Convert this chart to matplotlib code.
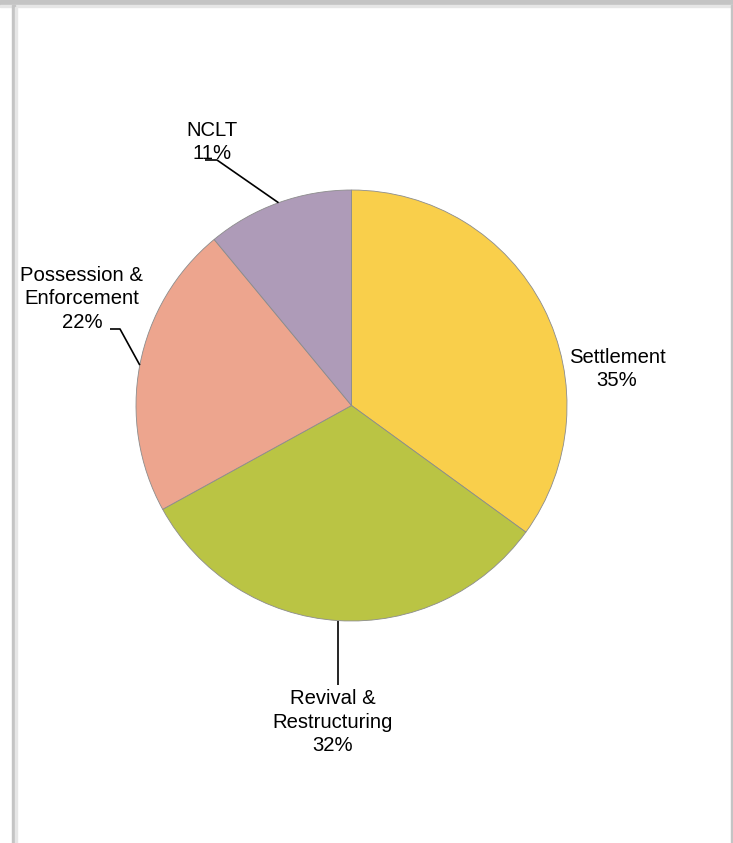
import numpy as np
import matplotlib.pyplot as plt
from matplotlib.patches import Rectangle

plt.rcParams['font.family'] = ['Liberation Sans', 'DejaVu Sans']

# data
labels = ["Settlement", "Revival &\nRestructuring", "Possession &\nEnforcement", "NCLT"]
shares = [35, 32, 22, 11]
colors = ["#F9CF4B", "#BAC444", "#EDA58E", "#AE9BB8"]

W, H = 733, 843
fig = plt.figure(figsize=(W / 100, H / 100), dpi=100)
ax = fig.add_axes([0, 0, 1, 1])

# pie geometry in pixel coordinates (y measured from bottom)
cx, cy, r = 351.5, H - 405.5, 215.5
wedges, _ = ax.pie(shares, colors=colors, startangle=90, counterclock=False,
                   center=(cx, cy), radius=r,
                   wedgeprops=dict(edgecolor="#8C8C8C", linewidth=0.6))

# label text centres and leader elbows (image pixel coords, y from top)
text_pos = [(617, 369), (333, 722), (82, 299), (212, 142)]
elbows = [None, [(338, 685)], [(120, 329), (110, 329)], [(217, 160), (205, 160)]]

for w, lab, s, tp, el in zip(wedges, labels, shares, text_pos, elbows):
    ax.text(tp[0], H - tp[1], f"{lab}\n{s}%", ha="center", va="center",
            fontsize=14.6, linespacing=1.28, color="black")
    if el is None:
        continue
    mid = np.deg2rad((w.theta1 + w.theta2) / 2)
    px, py = cx + r * np.cos(mid), cy + r * np.sin(mid)
    xs = [px] + [e[0] for e in el]
    ys = [py] + [H - e[1] for e in el]
    if len(el) == 1:
        xs[1] = px
    ax.plot(xs, ys, color="black", lw=1.2, solid_capstyle="butt")

ax.set_xlim(0, W)
ax.set_ylim(0, H)
ax.set_aspect("equal")
ax.axis("off")

# frame of the original screenshot
fig.patches.append(Rectangle((0, H - 5), W, 5, transform=None, color="#C4C4C4"))
fig.patches.append(Rectangle((0, H - 6.5), W, 1.5, transform=None, color="#E6E6E6"))
fig.patches.append(Rectangle((12, 0), 3, H - 5, transform=None, color="#C4C4C4"))
fig.patches.append(Rectangle((15, 0), 1.5, H - 6.5, transform=None, color="#E6E6E6"))
fig.patches.append(Rectangle((731, 0), 2, H - 5, transform=None, color="#C4C4C4"))

fig.savefig("out.png", dpi=100)
